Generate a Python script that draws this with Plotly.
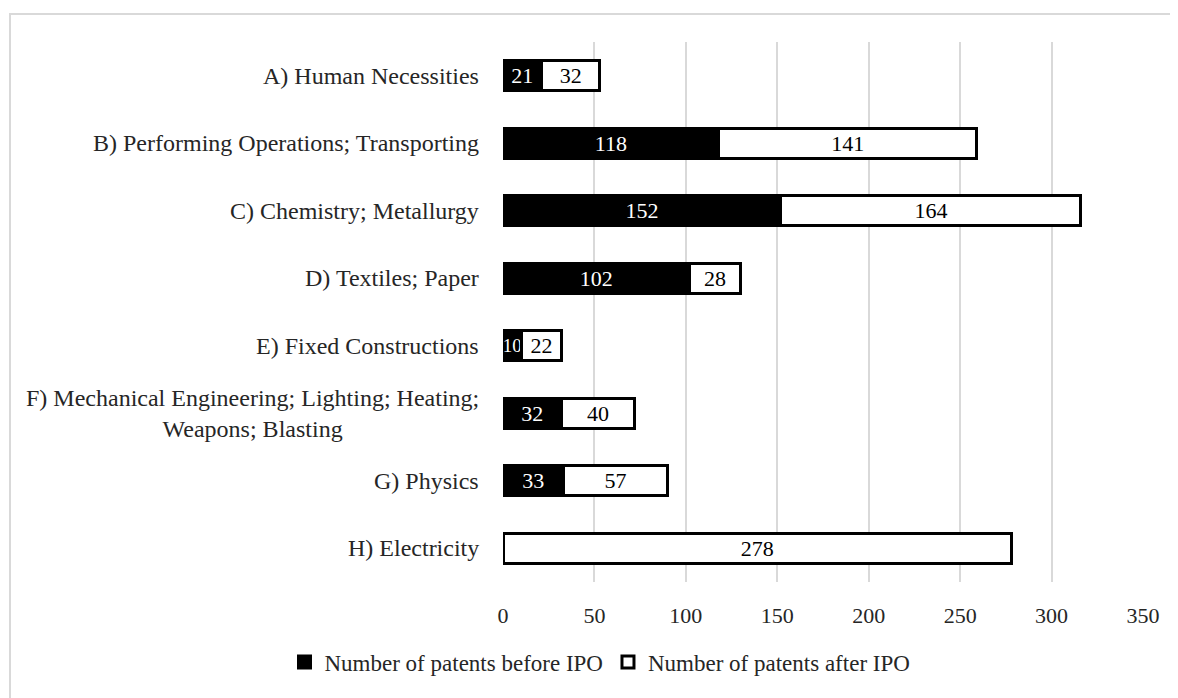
import plotly.graph_objects as go

categories = [
    "A) Human Necessities",
    "B) Performing Operations; Transporting",
    "C) Chemistry; Metallurgy",
    "D) Textiles; Paper",
    "E) Fixed Constructions",
    "F) Mechanical Engineering; Lighting; Heating;<br>Weapons; Blasting",
    "G) Physics",
    "H) Electricity",
]
before_ipo = [21, 118, 152, 102, 10, 32, 33, 0]
after_ipo = [32, 141, 164, 28, 22, 40, 57, 278]
x_ticks = [0, 50, 100, 150, 200, 250, 300, 350]

FONT = "Liberation Serif, Times New Roman, serif"
FS_LAB = 24
FS_NUM = 22
FS_LEG = 23
TXT = "#262626"

# page body has an 8px margin; compensate so the picture lands where intended
OFF = 8
W, H = 1178, 698
L, R, T, B = 503 - OFF, 35 + OFF, 42 - OFF, 116 + OFF
pw, ph = W - L - R, H - T - B

def px_x(px):
    return (px - OFF - L) / pw

def px_y(py):
    return (H - B - (py - OFF)) / ph

def num_sizes(vals):
    return [FS_NUM if v >= 15 else 19 for v in vals]

fig = go.Figure()
fig.add_trace(go.Bar(
    y=categories, x=before_ipo, orientation="h",
    name="Number of patents before IPO",
    marker=dict(color="black", line=dict(color="black", width=3)),
    text=[str(v) if v else "" for v in before_ipo],
    textposition="inside", insidetextanchor="middle", textangle=0,
    constraintext="none",
    textfont=dict(family=FONT, size=num_sizes(before_ipo), color="white"),
    hoverinfo="x+name",
))
fig.add_trace(go.Bar(
    y=categories, x=after_ipo, orientation="h",
    name="Number of patents after IPO",
    marker=dict(color="white", line=dict(color="black", width=3)),
    text=[str(v) if v else "" for v in after_ipo],
    textposition="inside", insidetextanchor="middle", textangle=0,
    constraintext="none",
    textfont=dict(family=FONT, size=FS_NUM, color="black"),
    hoverinfo="x+name",
))

for c in categories:
    fig.add_annotation(
        x=px_x(481), xref="paper", y=c, yref="y",
        text=c, showarrow=False, xanchor="right", align="center",
        font=dict(family=FONT, size=FS_LAB, color=TXT),
    )

fig.add_shape(
    type="rect", xref="paper", yref="paper",
    x0=px_x(10), x1=px_x(1200), y0=px_y(14), y1=px_y(720),
    line=dict(color="#d9d9d9", width=2), fillcolor="rgba(0,0,0,0)",
    layer="below",
)

fig.update_layout(
    width=W, height=H,
    margin=dict(l=L, r=R, t=T, b=B, autoexpand=False),
    barmode="stack", bargap=0.556,
    plot_bgcolor="white", paper_bgcolor="white",
    font=dict(family=FONT, size=FS_NUM, color=TXT),
    showlegend=True,
    legend=dict(
        orientation="h", x=px_x(600), xanchor="center",
        y=px_y(662), yanchor="middle",
        font=dict(family=FONT, size=FS_LEG, color=TXT),
        itemwidth=30, traceorder="normal",
    ),
    xaxis=dict(
        range=[0, 350], tickvals=x_ticks,
        showgrid=True, gridcolor="#d9d9d9", gridwidth=1.5,
        zeroline=False, showline=False,
        ticklabelstandoff=18,
        tickfont=dict(family=FONT, size=FS_NUM, color=TXT),
    ),
    yaxis=dict(
        autorange="reversed", showticklabels=False,
        showgrid=False, zeroline=False, showline=False,
    ),
)

fig.write_html("out.html")
